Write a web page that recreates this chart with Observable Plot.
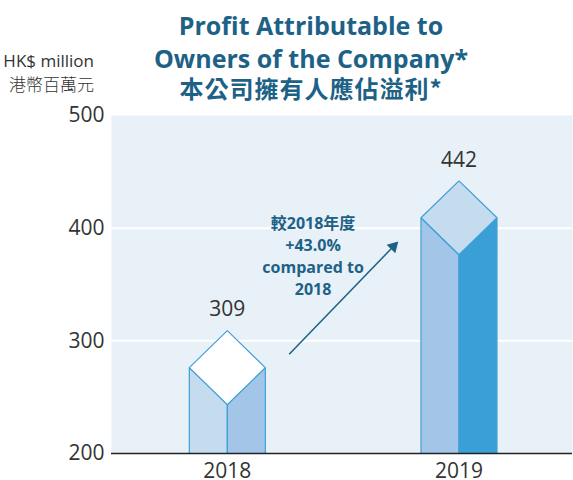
<!DOCTYPE html>
<html><head><meta charset="utf-8">
<script src="https://cdn.jsdelivr.net/npm/d3@7"></script>
<script src="https://cdn.jsdelivr.net/npm/@observablehq/plot@0.6"></script>
<style>
body{margin:0;background:#fff;}
#wrap{position:relative;width:573px;height:480px;font-family:"Open Sans","Noto Sans CJK TC",sans-serif;}
#chart{position:absolute;left:0;top:0;}
.t{position:absolute;left:61px;width:500px;text-align:center;font-weight:700;color:#1d6286;font-size:25px;line-height:1;white-space:nowrap;}
.u{position:absolute;left:0;width:94px;text-align:right;color:#333;font-size:17px;line-height:1;white-space:nowrap;}
</style>
</head><body>
<div id="wrap">
  <div id="chart"></div>
  <div class="t" style="top:13px">Profit Attributable to</div>
  <div class="t" style="top:46px">Owners of the Company*</div>
  <div class="t" style="top:76px;font-size:24px;font-family:'Noto Sans CJK TC',sans-serif;letter-spacing:1px">本公司擁有人應佔溢利*</div>
  <div class="u" style="top:52px">HK$ million</div>
  <div class="u" style="top:75px;font-family:'Noto Sans CJK TC',sans-serif;font-weight:300">港幣百萬元</div>
</div>
<script>
// ---- data ----
const years = [2018, 2019];
const profits = [309, 442];
const yTicks = [200, 300, 400, 500];
const changeLabel = ["較2018年度", "+43.0%", "compared to", "2018"];
const annotationAt = {x: 1.37, y: 376};
const arrowFrom = {x: 1.267, y: 288};
const arrowTo = {x: 1.732, y: 387};

// ---- styles / sizes ----
const halfW = 0.164;   // half bar width in x units
const depth = 32.8;    // diamond half-height in y units
const edge = "#3d9fd8";
const faceColors = [
  {left: "#c5dcef", right: "#a3c6e8", top: "#ffffff"},
  {left: "#a3c6e8", right: "#3a9fd6", top: "#c5dcef"}
];
const teal = "#1d6286";

const base = 200;
const polys = [];
years.forEach((yr, i) => {
  const cx = i + 1, v = profits[i];
  const pts = {
    left: [[cx - halfW, base], [cx - halfW, v - depth], [cx, v - 2 * depth], [cx, base]],
    right: [[cx, base], [cx, v - 2 * depth], [cx + halfW, v - depth], [cx + halfW, base]],
    top: [[cx, v], [cx + halfW, v - depth], [cx, v - 2 * depth], [cx - halfW, v - depth]]
  };
  for (const face of ["left", "right", "top"]) {
    pts[face].forEach(([x, y]) => polys.push({id: yr + "-" + face, x, y, fill: faceColors[i][face]}));
  }
});

const chart = Plot.plot({
  width: 573,
  height: 480,
  marginTop: 115,
  marginBottom: 27,
  marginLeft: 111,
  marginRight: 1,
  style: {fontFamily: '"Open Sans","Noto Sans CJK TC",sans-serif', fontSize: "21px", color: "#333", background: "transparent"},
  x: {domain: [0.5, 2.49], ticks: [1, 2], tickFormat: d => String(years[d - 1]), tickSize: 0, tickPadding: 10, label: null},
  y: {domain: [200, 500], ticks: yTicks, tickSize: 0, tickPadding: 7, label: null},
  color: {type: "identity"},
  marks: [
    Plot.frame({fill: "#e8f0f8", stroke: null}),
    Plot.gridY([300, 400], {stroke: "#fff", strokeOpacity: 1, strokeWidth: 2}),
    Plot.line(polys, {x: "x", y: "y", z: "id", fill: "fill", stroke: edge, strokeWidth: 1.2, curve: "linear-closed", strokeLinejoin: "miter"}),
    Plot.ruleY([200], {stroke: "#222", strokeWidth: 1.5}),
    Plot.text(years.map((yr, i) => ({x: i + 1, v: profits[i]})), {x: "x", y: "v", text: d => String(d.v), dy: -21, fontSize: 21, fill: "#333"}),
    Plot.link([{x1: arrowFrom.x, y1: arrowFrom.y, x2: arrowTo.x, y2: arrowTo.y}], {x1: "x1", y1: "y1", x2: "x2", y2: "y2", stroke: teal, strokeWidth: 1.5}),
    Plot.dot([arrowTo], {x: "x", y: "y", symbol: "triangle", r: 4.5, fill: teal, stroke: null, rotate: 44, dx: -3.5, dy: 3.6}),
    Plot.text([annotationAt], {x: "x", y: "y", text: () => changeLabel.join("\n"), lineHeight: 1.375, fontSize: 16, fontWeight: "bold", fill: teal})
  ]
});
document.getElementById("chart").appendChild(chart);
</script>
</body></html>
